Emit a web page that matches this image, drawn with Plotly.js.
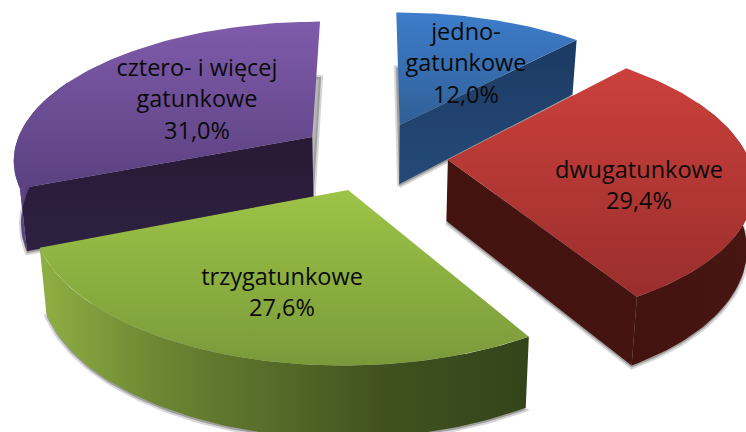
<!DOCTYPE html>
<html><head><meta charset="utf-8">
<script src="https://cdn.plot.ly/plotly-3.0.1.min.js"></script>
<style>html,body{margin:0;padding:0;background:#fff}#c{width:746px;height:432px}</style>
</head><body><div id="c"></div>
<script>
// --- data ---
const categories = ['jedno-gatunkowe', 'dwugatunkowe', 'trzygatunkowe', 'cztero- i więcej gatunkowe'];
const values = [12.0, 29.4, 27.6, 31.0];
const labelLines = [['jedno-', 'gatunkowe'], ['dwugatunkowe'], ['trzygatunkowe'], ['cztero- i więcej', 'gatunkowe']];

// --- styles ---
const topColors = [['#3d7dcb', '#315f96'], ['#cc403c', '#9a2e2c'], ['#9dc447', '#7a9a3a'], ['#7f5bab', '#5b4180']];
const wallColors = [['#254a78', '#1c3a62'], ['#451411', '#431310'], ['#3a4a1c', '#33431a'], ['#2e2040', '#281a36']];
const rimStops = [
  [[0, '#254a78'], [1, '#1c3a62']],
  [[0, '#431310'], [1, '#481512']],
  [[0, '#8fb043'], [0.25, '#6b8532'], [0.7, '#415220'], [1, '#33441a']],
  [[0, '#6a4c95'], [0.2, '#5a4080'], [0.6, '#2e2040'], [1, '#2e2040']]
];
const labelAnchor = [[466, 34], [639, 172], [282, 279], [197, 70]];
const lineStep = 31.5;
const paintOrder = [0, 3, 1, 2];

// --- pseudo-3D projection ---
const CX = 373, CY = 156, RX = 300, RY = 138, PERSP = 0.15, EXPLODE = 0.25, DEPTH = 61, BOTTOM_SHRINK = 0.98;
function project(wx, wy, lowered) {
  const den = 1 + PERSP * wy;
  let x = CX + RX * wx / den, y = CY - RY * wy / den;
  if (lowered) { x = CX + (x - CX) * BOTTOM_SHRINK; y += DEPTH / Math.pow(den, 0.85); }
  return [x, y];
}
const total = values.reduce((a, b) => a + b, 0);
let acc = 0;
const slices = values.map(v => { const a0 = acc / total * 2 * Math.PI; acc += v; const a1 = acc / total * 2 * Math.PI; return [a0, a1]; });

function stops(cols) { return cols.map((c, i) => [i / (cols.length - 1), c]); }
function poly(pts, grad) {
  return {
    type: 'scatter', mode: 'lines', x: pts.map(p => p[0]), y: pts.map(p => p[1]),
    fill: 'toself', line: {width: 0, color: 'rgba(0,0,0,0)'}, hoverinfo: 'skip', showlegend: false,
    fillgradient: grad
  };
}

const traces = [];
paintOrder.forEach(i => {
  const [a0, a1] = slices[i], m = (a0 + a1) / 2;
  const ax = EXPLODE * Math.sin(m), ay = EXPLODE * Math.cos(m);
  const N = 80, arcW = [], angles = [];
  for (let k = 0; k <= N; k++) {
    const t = a0 + (a1 - a0) * k / N;
    angles.push(t);
    arcW.push([ax + Math.sin(t), ay + Math.cos(t)]);
  }
  const arcTop = arcW.map(p => project(p[0], p[1], false));
  const arcBot = arcW.map(p => project(p[0], p[1], true));
  const apexT = project(ax, ay, false), apexB = project(ax, ay, true);

  // soft shadow under the bottom face
  const shPts = [apexB].concat(arcBot, [apexB]).map(p => [p[0], p[1] + 2]);
  traces.push({type: 'scatter', mode: 'lines', x: shPts.map(p => p[0]), y: shPts.map(p => p[1]), fill: 'toself',
    fillcolor: 'rgba(70,70,70,0.4)', line: {width: 4, color: 'rgba(90,90,90,0.25)'}, hoverinfo: 'skip', showlegend: false});

  const wc = {type: 'vertical', colorscale: stops(wallColors[i])};
  // a cut wall is only drawn when it faces the viewer
  if (Math.sin(a0) < -1e-6) traces.push(poly([apexT, arcTop[0], arcBot[0], apexB, apexT], wc));
  if (Math.cos(a1 + Math.PI / 2) < -1e-6) traces.push(poly([apexT, arcTop[N], arcBot[N], apexB, apexT], wc));
  // the outer rim, the part that can show past the top face
  const front = angles.map((t, k) => Math.cos(t) < 0.45 ? k : -1).filter(k => k >= 0);
  if (front.length > 1) {
    const rimT = front.map(k => arcTop[k]), rimB = front.map(k => arcBot[k]);
    traces.push(poly(rimT.concat(rimB.slice().reverse(), [rimT[0]]), {type: 'horizontal', colorscale: rimStops[i]}));
  }
  const top = [apexT].concat(arcTop, [apexT]);
  traces.push(poly(top, {type: 'vertical', colorscale: stops(topColors[i].slice().reverse())}));
});

// labels
const tx = [], ty = [], tt = [];
categories.forEach((c, i) => {
  const lines = labelLines[i].concat([values[i].toFixed(1).replace('.', ',') + '%']);
  lines.forEach((ln, j) => { tx.push(labelAnchor[i][0]); ty.push(labelAnchor[i][1] + j * lineStep); tt.push(ln); });
});
traces.push({type: 'scatter', mode: 'text', x: tx, y: ty, text: tt, textposition: 'middle center',
  textfont: {family: '"Open Sans", sans-serif', size: 23.5, color: '#0a0a0a'}, hoverinfo: 'skip', showlegend: false});

Plotly.newPlot('c', traces, {
  width: 746, height: 432, margin: {l: 0, r: 0, t: 0, b: 0}, showlegend: false,
  paper_bgcolor: '#fff', plot_bgcolor: '#fff',
  xaxis: {range: [0, 746], visible: false, fixedrange: true},
  yaxis: {range: [432, 0], visible: false, fixedrange: true}
}, {displayModeBar: false, staticPlot: true});
</script></body></html>
